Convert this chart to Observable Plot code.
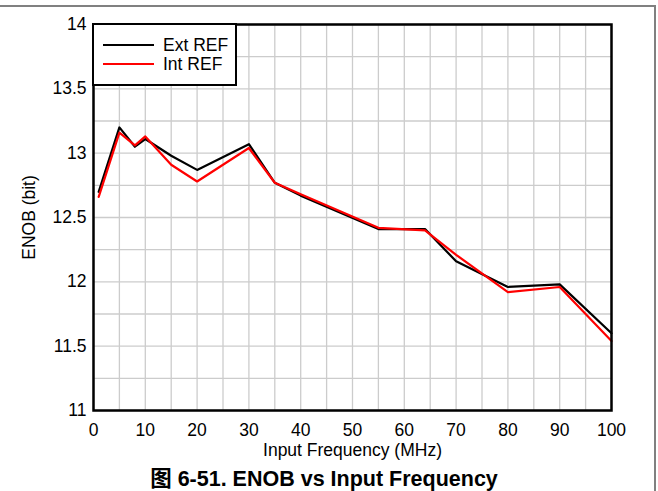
<!DOCTYPE html>
<html><head><meta charset="utf-8">
<script src="https://cdn.jsdelivr.net/npm/d3@7"></script>
<script src="https://cdn.jsdelivr.net/npm/@observablehq/plot@0.6"></script>
<style>
body{margin:0;background:#fff;font-family:"Liberation Sans",Arial,"Noto Sans CJK SC",sans-serif;}
#wrap{position:relative;width:658px;height:491px;overflow:hidden;background:#fff;}
#chart{position:absolute;left:0;top:0;}
#deco-top{position:absolute;left:0;top:5px;width:656px;height:2px;background:#808080;}
#deco-right{position:absolute;left:654px;top:5px;width:2px;height:486px;background:#808080;}
#legend{position:absolute;left:92px;top:23px;width:145px;height:63px;box-sizing:border-box;border:2.5px solid #000;background:#fff;font-size:17.5px;}
.lg{position:absolute;left:0;height:20px;width:140px;}
.lg .sw{position:absolute;left:9px;top:9px;width:51px;height:2px;}
.lg .tx{position:absolute;left:69px;top:0;line-height:20px;color:#000;}
#caption{position:absolute;left:0;width:648px;top:467px;text-align:center;font-weight:bold;font-size:21.5px;line-height:24px;color:#000;}
</style></head><body>
<div id="wrap">
  <div id="chart"></div>
  <div id="legend"></div>
  <div id="caption"></div>
  <div id="deco-top"></div>
  <div id="deco-right"></div>
</div>
<script>
// ---- data ----
const freq = [1, 5, 8, 10, 15, 20, 30, 35, 40, 55, 64, 70, 80, 90, 100];
const enobExt = [12.70, 13.20, 13.05, 13.11, 12.98, 12.87, 13.07, 12.77, 12.67, 12.41, 12.41, 12.16, 11.96, 11.98, 11.60];
const enobInt = [12.66, 13.16, 13.06, 13.13, 12.91, 12.78, 13.04, 12.77, 12.68, 12.42, 12.40, 12.21, 11.92, 11.96, 11.54];
const seriesNames = ["Ext REF", "Int REF"];
const seriesColors = ["#000000", "#ff0000"];
const xTicks = [0, 10, 20, 30, 40, 50, 60, 70, 80, 90, 100];
const yTicks = [11, 11.5, 12, 12.5, 13, 13.5, 14];
const xGrid = d3.range(0, 101, 5);
const yGrid = d3.range(11, 14.001, 0.25);
const xLabel = "Input Frequency (MHz)";
const yLabel = "ENOB (bit)";
const captionText = "图 6-51. ENOB vs Input Frequency";

const extData = freq.map((f, i) => ({f, v: enobExt[i]}));
const intData = freq.map((f, i) => ({f, v: enobInt[i]}));

const chart = Plot.plot({
  width: 658,
  height: 465,
  marginTop: 24,
  marginLeft: 93,
  marginRight: 47,
  marginBottom: 55,
  style: {fontFamily: "'Liberation Sans', Arial, sans-serif", fontSize: "17.5px", background: "transparent", color: "#000"},
  x: {domain: [0, 100]},
  y: {domain: [11, 14]},
  marks: [
    Plot.gridX(xGrid, {stroke: "#cccccc", strokeOpacity: 1, strokeWidth: 1.3}),
    Plot.gridY(yGrid, {stroke: "#cccccc", strokeOpacity: 1, strokeWidth: 1.3}),
    Plot.axisX({ticks: xTicks, tickSize: 0, tickPadding: 13, fontSize: 17.5, label: xLabel, labelAnchor: "center", labelArrow: "none", labelOffset: 45}),
    Plot.axisY({ticks: yTicks, tickSize: 0, tickPadding: 7, fontSize: 17.5, tickFormat: d => String(d), label: yLabel, labelAnchor: "center", labelArrow: "none", labelOffset: 71}),
    Plot.line(extData, {x: "f", y: "v", stroke: seriesColors[0], strokeWidth: 2.2}),
    Plot.line(intData, {x: "f", y: "v", stroke: seriesColors[1], strokeWidth: 2.2}),
    Plot.frame({stroke: "#000", strokeWidth: 2.5})
  ]
});
document.getElementById("chart").appendChild(chart);

const legend = document.getElementById("legend");
seriesNames.forEach((name, i) => {
  const row = document.createElement("div");
  row.className = "lg";
  row.style.top = (10 + i * 19) + "px";
  row.innerHTML = `<div class="sw" style="background:${seriesColors[i]}"></div><div class="tx">${name}</div>`;
  legend.appendChild(row);
});
document.getElementById("caption").textContent = captionText;
</script>
</body></html>
